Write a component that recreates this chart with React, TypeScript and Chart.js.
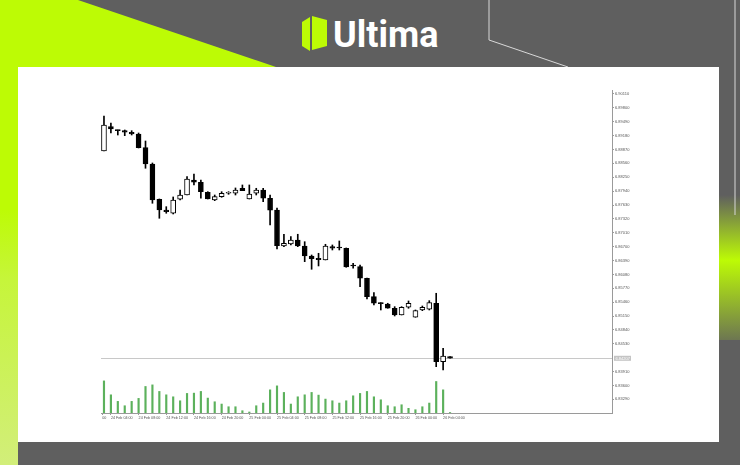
import { useEffect, useRef } from "react";
import { Chart, registerables } from "chart.js";
Chart.register(...registerables);

// Hourly candles, 24 Feb 03:00 .. 26 Feb 05:00
const opens = [
  6.88837, 6.8938, 6.89306, 6.8929, 6.89255, 6.89217, 6.88911, 6.88547, 6.87758, 6.87519,
  6.87446, 6.87758, 6.87854, 6.88189, 6.88138, 6.87915, 6.87743, 6.87816, 6.87892, 6.87892,
  6.88004, 6.87765, 6.87892, 6.87966, 6.87781, 6.87519, 6.86715, 6.8676, 6.86849, 6.86715,
  6.86492, 6.86441, 6.86403, 6.867, 6.86677, 6.86664, 6.86275, 6.86253, 6.85994, 6.85583,
  6.85436, 6.8542, 6.85324, 6.85174, 6.85346, 6.85123, 6.85286, 6.85302, 6.85436, 6.84131,
  6.84243,
];
const highs = [
  6.89619, 6.89462, 6.89306, 6.89306, 6.8929, 6.89239, 6.8906, 6.88569, 6.87765, 6.87593,
  6.8781, 6.87966, 6.88263, 6.88323, 6.88189, 6.87928, 6.87854, 6.87928, 6.87928, 6.88011,
  6.88078, 6.88078, 6.88004, 6.88004, 6.87854, 6.87564, 6.86977, 6.86923, 6.86977, 6.86811,
  6.86514, 6.86552, 6.86753, 6.86738, 6.86827, 6.86671, 6.86329, 6.86291, 6.86001, 6.85672,
  6.8545, 6.85436, 6.8536, 6.8536, 6.85487, 6.85286, 6.85375, 6.85494, 6.85659, 6.84431,
  6.84243,
];
const lows = [
  6.88837, 6.89239, 6.89194, 6.89179, 6.89194, 6.88904, 6.88451, 6.87669, 6.87334, 6.87446,
  6.8743, 6.87743, 6.87854, 6.88078, 6.87781, 6.87765, 6.87727, 6.87803, 6.8787, 6.87854,
  6.8795, 6.87765, 6.87854, 6.87705, 6.87184, 6.86648, 6.867, 6.86738, 6.867, 6.86365,
  6.86195, 6.86269, 6.86403, 6.86626, 6.86626, 6.8624, 6.86217, 6.85806, 6.85532, 6.85398,
  6.85286, 6.85324, 6.85152, 6.85174, 6.85324, 6.85123, 6.8527, 6.85286, 6.8402, 6.83946,
  6.84207,
];
const closes = [
  6.89418, 6.89328, 6.8929, 6.89255, 6.89217, 6.88911, 6.88547, 6.87743, 6.87519, 6.87481,
  6.87743, 6.87854, 6.88212, 6.88138, 6.87928, 6.87765, 6.87816, 6.87892, 6.87899, 6.87966,
  6.8795, 6.87877, 6.87966, 6.87781, 6.87513, 6.86722, 6.86776, 6.86849, 6.86715, 6.86492,
  6.86432, 6.86409, 6.86715, 6.86664, 6.86671, 6.86246, 6.86269, 6.85994, 6.85583, 6.85436,
  6.85429, 6.85324, 6.85174, 6.85346, 6.85436, 6.8527, 6.85346, 6.85449, 6.84131, 6.84259,
  6.84207,
];
const volumes = [
  3230, 1830, 1170, 730, 1170, 1470, 2670, 2830, 2170, 1830,
  1630, 1230, 1970, 2000, 2170, 1500, 1130, 900, 630, 630,
  230, 100, 730, 1000, 2330, 2730, 2070, 900, 1630, 1830,
  2070, 1800, 1400, 1230, 1000, 1230, 1730, 1970, 2170, 1630,
  1330, 730, 630, 830, 470, 330, 630, 1000, 3170, 2330,
  50,
];
const yTickValues = [
  6.9011, 6.898, 6.8949, 6.8918, 6.8887, 6.8856, 6.8825, 6.8794, 6.8763, 6.8732, 6.8701,
  6.867, 6.8639, 6.8608, 6.8577, 6.8546, 6.8515, 6.8484, 6.8453, 6.8391, 6.836, 6.8329,
];
const xTickHours = [-0.25, 1, 5, 9, 13, 17, 21, 25, 29, 33, 37, 41, 45, 49];
const xTickLabels = [
  "00", "24 Feb 04:00", "24 Feb 08:00", "24 Feb 12:00", "24 Feb 16:00", "24 Feb 20:00",
  "25 Feb 00:00", "25 Feb 04:00", "25 Feb 08:00", "25 Feb 12:00", "25 Feb 16:00",
  "25 Feb 20:00", "26 Feb 00:00", "26 Feb 04:00",
];

const AXIS = "#9a9a9a";
const TXT = "#555555";

const priceLine = {
  id: "priceLine",
  beforeDatasetsDraw(chart: any) {
    const { ctx, chartArea, scales } = chart;
    const last = closes[closes.length - 1];
    const y = Math.round(scales.y.getPixelForValue(last)) + 0.5;
    ctx.save();
    ctx.strokeStyle = "#c8c8c8";
    ctx.lineWidth = 1;
    ctx.beginPath();
    ctx.moveTo(chartArea.left, y);
    ctx.lineTo(chartArea.right, y);
    ctx.stroke();
    ctx.restore();
  },
  afterDraw(chart: any) {
    const { ctx, scales } = chart;
    const last = closes[closes.length - 1];
    const y = scales.y.getPixelForValue(last);
    const x0 = scales.y.left + 2;
    ctx.save();
    ctx.fillStyle = "#c4c4c4";
    ctx.fillRect(x0, y - 2.5, 17, 5);
    ctx.fillStyle = "#ffffff";
    ctx.font = "4px 'Liberation Sans'";
    ctx.textBaseline = "middle";
    ctx.fillText(last.toFixed(5), x0 + 1.5, y + 0.2);
    ctx.restore();
  },
};

export default function App() {
  const ref = useRef<HTMLCanvasElement | null>(null);
  useEffect(() => {
    if (!ref.current) return;
    const idx = opens.map((_, i) => i);
    const chart = new Chart(ref.current, {
      type: "bar",
      data: {
        datasets: [
          {
            label: "body",
            data: idx.map((i) => ({ x: i, y: [opens[i], closes[i]] })) as any,
            backgroundColor: idx.map((i) => (closes[i] >= opens[i] ? "#ffffff" : "#000000")),
            borderColor: "#000000",
            borderWidth: 1,
            borderSkipped: false,
            barThickness: 5,
            minBarLength: 1,
            grouped: false,
            yAxisID: "y",
          },
          {
            label: "wick",
            data: idx.map((i) => ({ x: i, y: [lows[i], highs[i]] })) as any,
            backgroundColor: "#000000",
            borderWidth: 0,
            barThickness: 1,
            minBarLength: 1,
            grouped: false,
            yAxisID: "y",
          },
          {
            label: "volume",
            data: idx.map((i) => ({ x: i, y: volumes[i] })) as any,
            backgroundColor: "#5cb15c",
            borderWidth: 0,
            barThickness: 1.5,
            grouped: false,
            yAxisID: "yv",
          },
        ],
      },
      options: {
        animation: false,
        responsive: false,
        maintainAspectRatio: false,
        events: [],
        layout: { padding: { left: 83, top: 23, right: 81, bottom: 17 } },
        plugins: { legend: { display: false }, tooltip: { enabled: false } },
        scales: {
          x: {
            type: "linear",
            min: -0.43,
            max: 73.4,
            offset: false,
            grid: { display: true, offset: false, drawOnChartArea: false, drawTicks: true, tickLength: 2, color: AXIS },
            border: { display: true, color: AXIS },
            afterBuildTicks: (s: any) => {
              s.ticks = xTickHours.map((v) => ({ value: v }));
            },
            afterFit: (s: any) => {
              s.height = 12;
            },
            ticks: {
              autoSkip: false,
              maxRotation: 0,
              minRotation: 0,
              align: "start",
              padding: 1,
              color: TXT,
              font: { family: "'Liberation Sans'", size: 3.7 },
              callback: (_v: any, i: number) => xTickLabels[i],
            },
          },
          y: {
            position: "right",
            min: 6.82985,
            max: 6.90199,
            grid: { display: true, drawOnChartArea: false, drawTicks: true, tickLength: 2, color: AXIS },
            border: { display: true, color: AXIS },
            afterBuildTicks: (s: any) => {
              s.ticks = yTickValues.map((v) => ({ value: v }));
            },
            afterFit: (s: any) => {
              s.width = 26;
            },
            ticks: {
              autoSkip: false,
              padding: 1,
              color: TXT,
              font: { family: "'Liberation Sans'", size: 4 },
              callback: (v: any) => Number(v).toFixed(5),
            },
          },
          yv: { display: false, min: 0, max: 32500 },
        },
      },
      plugins: [priceLine],
    });
    return () => chart.destroy();
  }, []);

  return (
    <div style={{ position: "fixed", left: 0, top: 0, width: 740, height: 465, background: "#5f5f5f", overflow: "hidden" }}>
      <svg width={740} height={465} style={{ position: "absolute", left: 0, top: 0 }}>
        <defs>
          <linearGradient id="lg1" x1="0" y1="0" x2="0" y2="1">
            <stop offset="0" stopColor="#bdfb05" />
            <stop offset="0.45" stopColor="#bdfb05" />
            <stop offset="0.6" stopColor="#c6f53a" />
            <stop offset="1" stopColor="#d2ee7a" />
          </linearGradient>
          <linearGradient id="lg2" x1="0" y1="0" x2="0" y2="1">
            <stop offset="0" stopColor="#bdfb05" stopOpacity="0" />
            <stop offset="0.45" stopColor="#bdfb05" />
            <stop offset="1" stopColor="#bdfb05" stopOpacity="0.15" />
          </linearGradient>
        </defs>
        <polygon points="0,0 78,0 276,67 18,67 18,465 0,465" fill="url(#lg1)" />
        <polygon points="719,195 740,195 740,340 719,340" fill="url(#lg2)" />
        <polyline points="489,0 489,40 568,67" fill="none" stroke="#d8d8d8" strokeWidth="1" />
        <line x1="735" y1="0" x2="735" y2="215" stroke="#d8d8d8" strokeWidth="1" />
        <polygon points="302,22 310,17 310,51 302,46" fill="#bdfb05" />
        <polygon points="312,16 327,20 327,46 312,50" fill="#bdfb05" />
        <text x="333" y="47" fill="#ffffff" fontFamily="Roboto" fontWeight="700" fontSize="36">Ultima</text>
      </svg>
      <div style={{ position: "absolute", left: 18, top: 67, width: 701, height: 375, background: "#ffffff" }}>
        <canvas ref={ref} width={701} height={375} style={{ display: "block", width: 701, height: 375 }} />
      </div>
    </div>
  );
}
